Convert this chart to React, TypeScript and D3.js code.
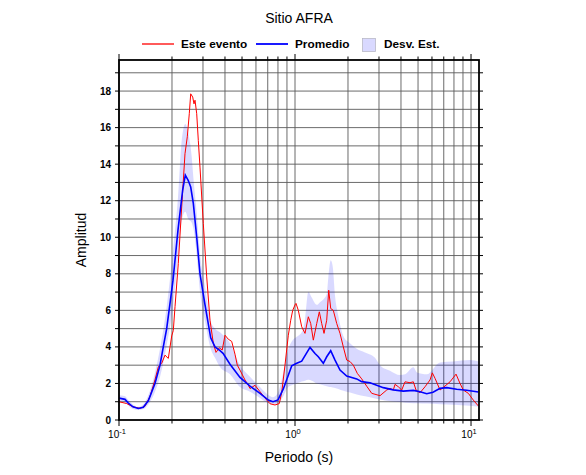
import React from "react";
import * as d3 from "d3";

const title = "Sitio AFRA";
const xLabel = "Periodo (s)";
const yLabel = "Amplitud";
const legendLabels = ["Este evento", "Promedio", "Desv. Est."];
const yTickValues = [0, 2, 4, 6, 8, 10, 12, 14, 16, 18];
const xMajorTicks = [0.1, 1, 10];
const xMajorExps = ["-1", "0", "1"];

const eventPeriods = [0.1, 0.1106, 0.12, 0.1316, 0.1405, 0.1501, 0.1601, 0.1672, 0.1748, 0.1825, 0.1906, 0.1993, 0.2035, 0.2081, 0.2172, 0.2271, 0.2371, 0.2444, 0.2508, 0.2555, 0.2623, 0.2668, 0.2703, 0.2764, 0.2822, 0.2885, 0.3013, 0.315, 0.3289, 0.3434, 0.3557, 0.3715, 0.386, 0.4002, 0.4178, 0.4368, 0.456, 0.47, 0.4869, 0.5198, 0.5428, 0.555, 0.5926, 0.6326, 0.6906, 0.7211, 0.7697, 0.8142, 0.8401, 0.8772, 0.9162, 0.9454, 0.9703, 1.0, 1.0131, 1.0442, 1.0916, 1.1398, 1.1901, 1.2281, 1.2706, 1.3284, 1.3744, 1.4181, 1.4615, 1.514, 1.5542, 1.5952, 1.6506, 1.7257, 1.8017, 1.8812, 1.967, 2.0535, 2.1443, 2.2594, 2.393, 2.5546, 2.7273, 3.041, 3.3195, 3.4653, 3.6182, 3.7, 3.863, 4.0394, 4.217, 4.502, 4.7011, 4.8697, 5.131, 5.478, 5.8482, 6.0275, 6.2452, 6.667, 7.1176, 7.5985, 8.2198, 8.6596, 9.0397, 9.65, 10.306, 11.0];
const eventValues = [1.0, 0.9, 0.72, 0.64, 0.75, 1.3, 2.2, 2.9, 3.1, 3.55, 3.37, 4.6, 4.9, 6.2, 8.56, 11.66, 14.57, 15.5, 16.76, 17.85, 17.67, 17.3, 17.5, 16.76, 15.3, 13.84, 10.75, 7.83, 5.46, 4.2, 3.7, 3.95, 3.83, 4.64, 4.42, 4.3, 3.6, 3.0, 2.73, 2.19, 1.91, 1.72, 1.9, 1.55, 1.09, 0.89, 0.82, 0.9, 1.5, 3.0, 4.64, 5.46, 6.0, 6.3, 6.38, 6.0, 5.1, 4.74, 5.65, 5.28, 4.37, 5.28, 5.92, 5.28, 4.74, 5.46, 7.1, 6.1, 6.0, 5.28, 4.74, 4.0, 3.28, 3.2, 3.0, 2.55, 2.25, 1.85, 1.46, 1.33, 1.64, 1.73, 1.64, 1.95, 1.82, 1.64, 2.09, 2.04, 2.09, 1.64, 1.49, 1.82, 2.19, 2.58, 2.28, 1.64, 1.86, 2.09, 2.51, 2.0, 1.64, 1.46, 1.09, 0.77];

const meanPeriods = [0.1, 0.1082, 0.1129, 0.1201, 0.1287, 0.1374, 0.1467, 0.1601, 0.171, 0.1785, 0.1866, 0.196, 0.2027, 0.2164, 0.2301, 0.2381, 0.2476, 0.2555, 0.2644, 0.2764, 0.2885, 0.3081, 0.3319, 0.3511, 0.3749, 0.39, 0.4272, 0.4869, 0.555, 0.6326, 0.7052, 0.75, 0.8005, 0.8579, 0.9162, 0.958, 1.0226, 1.0916, 1.2168, 1.2991, 1.3565, 1.4481, 1.514, 1.5952, 1.6878, 1.8017, 1.967, 2.2418, 2.393, 2.6671, 2.9121, 3.175, 3.6182, 4.1241, 4.7011, 5.131, 5.6017, 6.0833, 6.667, 7.2771, 8.2958, 9.45, 11.0];
const meanValues = [1.2, 1.13, 0.93, 0.72, 0.63, 0.7, 1.05, 2.0, 3.0, 4.0, 5.0, 6.56, 7.65, 10.4, 12.6, 13.4, 13.1, 12.75, 11.85, 10.0, 8.0, 6.3, 4.5, 4.0, 3.8, 3.65, 3.05, 2.33, 1.85, 1.46, 1.09, 1.0, 1.1, 1.7, 2.45, 2.97, 3.1, 3.22, 3.97, 3.64, 3.46, 3.1, 3.46, 3.79, 3.28, 2.73, 2.4, 2.25, 2.1, 2.04, 1.9, 1.77, 1.65, 1.58, 1.62, 1.55, 1.44, 1.52, 1.73, 1.77, 1.68, 1.63, 1.53];

const bandPeriods = [0.1, 0.1082, 0.1129, 0.1201, 0.1287, 0.1374, 0.1467, 0.1601, 0.171, 0.1866, 0.2027, 0.2164, 0.2271, 0.2381, 0.2476, 0.2589, 0.2644, 0.2764, 0.2885, 0.3081, 0.3319, 0.3511, 0.3749, 0.4272, 0.4869, 0.555, 0.6326, 0.7052, 0.75, 0.8005, 0.8579, 0.9162, 0.9579, 1.0226, 1.0916, 1.1398, 1.1901, 1.2443, 1.3284, 1.3868, 1.4481, 1.514, 1.5461, 1.5952, 1.6376, 1.6878, 1.762, 1.8812, 2.0535, 2.2418, 2.4984, 2.8478, 3.0409, 3.4653, 3.9501, 4.217, 4.7011, 4.93, 5.6017, 6.667, 7.934, 9.87, 11.1];
const bandUpper = [1.35, 1.3, 1.1, 0.85, 0.72, 0.85, 1.35, 2.6, 3.9, 6.2, 9.3, 12.2, 15.3, 16.2, 15.7, 14.4, 13.3, 11.3, 9.1, 7.3, 5.4, 5.0, 4.8, 4.2, 3.0, 2.37, 1.8, 1.37, 1.25, 1.5, 2.6, 3.9, 4.3, 4.55, 4.8, 5.5, 7.0, 6.7, 6.3, 6.45, 6.6, 6.9, 7.8, 8.74, 8.4, 6.8, 5.7, 4.6, 4.2, 3.9, 3.7, 3.4, 3.0, 2.7, 2.46, 2.5, 2.88, 2.6, 2.5, 3.15, 3.2, 3.28, 3.2];
const bandLower = [1.05, 0.98, 0.8, 0.6, 0.55, 0.6, 0.85, 1.55, 2.35, 4.1, 6.2, 8.9, 10.9, 11.4, 11.0, 10.8, 10.5, 9.0, 7.0, 5.4, 3.9, 3.4, 2.9, 2.5, 1.8, 1.55, 1.2, 0.91, 0.85, 0.9, 1.3, 1.8, 1.9, 2.0, 2.1, 2.15, 2.2, 2.15, 2.0, 1.95, 1.9, 1.85, 1.82, 1.8, 1.78, 1.75, 1.7, 1.6, 1.5, 1.4, 1.3, 1.18, 1.12, 1.02, 0.98, 0.95, 0.92, 0.92, 0.9, 0.86, 0.83, 0.78, 0.73];

const W = 586;
const H = 475;
const left = 119;
const right = 479;
const top = 60;
const bottom = 420;
const font = "'Liberation Sans', Arial, Helvetica, sans-serif";

export default function App() {
  const x = d3.scaleLog().domain([0.1, 11.1]).range([left, right]);
  const y = d3.scaleLinear().domain([0, 19.7]).range([bottom, top]);

  const minorX: number[] = [];
  for (const dec of [0.1, 1, 10]) {
    for (let k = 1; k <= 9; k++) {
      const v = dec * k;
      if (v >= 0.1 && v <= 11.1) minorX.push(v);
    }
  }
  const gridY = d3.range(1, 20);
  const tickY = d3.range(0, 20);

  const eventData = eventPeriods.map((p, i) => [p, eventValues[i]] as [number, number]);
  const meanData = meanPeriods.map((p, i) => [p, meanValues[i]] as [number, number]);
  const bandData = bandPeriods.map((p, i) => [p, bandLower[i], bandUpper[i]] as [number, number, number]);

  const line = d3
    .line<[number, number]>()
    .x((d) => x(d[0]))
    .y((d) => y(d[1]));
  const area = d3
    .area<[number, number, number]>()
    .x((d) => x(d[0]))
    .y0((d) => y(d[1]))
    .y1((d) => y(d[2]))
    .curve(d3.curveMonotoneX);

  return (
    <svg width={W} height={H} style={{ display: "block", position: "absolute", left: 0, top: 0 }}>
      <rect x={0} y={0} width={W} height={H} fill="#fff" />
      <defs>
        <clipPath id="plotclip">
          <rect x={left} y={top} width={right - left} height={bottom - top} />
        </clipPath>
      </defs>
      <text x={299} y={23} textAnchor="middle" fontFamily={font} fontSize={14} fill="#000">
        {title}
      </text>
      {/* legend */}
      <line x1={142} x2={174} y1={44} y2={44} stroke="#ff0000" strokeWidth={1.3} />
      <text x={181} y={48} fontFamily={font} fontSize={11.8} fontWeight="bold">
        {legendLabels[0]}
      </text>
      <line x1={256} x2={288} y1={44} y2={44} stroke="#0000ff" strokeWidth={1.8} />
      <text x={295} y={48} fontFamily={font} fontSize={11.8} fontWeight="bold">
        {legendLabels[1]}
      </text>
      <rect x={362.5} y={38.5} width={13} height={13} fill="#d9d9ff" stroke="#b8b8c8" strokeWidth={0.8} />
      <text x={384} y={48} fontFamily={font} fontSize={11.8} fontWeight="bold">
        {legendLabels[2]}
      </text>

      {/* grid */}
      <g stroke="#5a5a5a" strokeWidth={0.9}>
        {gridY.map((v) => (
          <line key={"gy" + v} x1={left} x2={right} y1={y(v)} y2={y(v)} />
        ))}
        {minorX.map((v) => (
          <line key={"gx" + v} x1={x(v)} x2={x(v)} y1={top} y2={bottom} />
        ))}
      </g>

      <g clipPath="url(#plotclip)">
        <path d={area(bandData) || ""} fill="#0000ff" fillOpacity={0.15} stroke="none" />
        <path d={line(eventData) || ""} fill="none" stroke="#ff0000" strokeWidth={1} />
        <path d={line(meanData) || ""} fill="none" stroke="#0000ff" strokeWidth={1.6} />
      </g>

      {/* ticks */}
      <g stroke="#000" strokeWidth={1}>
        {tickY.map((v) => (
          <g key={"ty" + v}>
            <line x1={left - 4} x2={left} y1={y(v)} y2={y(v)} />
            <line x1={right} x2={right + 4} y1={y(v)} y2={y(v)} />
          </g>
        ))}
        {minorX.map((v) => {
          const major = xMajorTicks.includes(v);
          const len = major ? 6 : 3.5;
          return (
            <g key={"tx" + v}>
              <line x1={x(v)} x2={x(v)} y1={bottom} y2={bottom + len} />
              <line x1={x(v)} x2={x(v)} y1={top - len} y2={top} />
            </g>
          );
        })}
      </g>

      {/* frame */}
      <rect x={left} y={top} width={right - left} height={bottom - top} fill="none" stroke="#000" strokeWidth={1.8} />

      {/* y tick labels */}
      {yTickValues.map((v) => (
        <text key={"yl" + v} x={left - 8} y={y(v) + 3.5} textAnchor="end" fontFamily={font} fontSize={10} fontWeight="bold">
          {v}
        </text>
      ))}
      {/* x tick labels */}
      {xMajorTicks.map((v, i) => (
        <text key={"xl" + v} x={x(v) - 2} y={438} textAnchor="middle" fontFamily={font} fontSize={10}>
          <tspan>10</tspan>
          <tspan dy={-4} fontSize={7.5}>
            {xMajorExps[i]}
          </tspan>
        </text>
      ))}

      <text x={299} y={462} textAnchor="middle" fontFamily={font} fontSize={14}>
        {xLabel}
      </text>
      <text
        transform={`translate(86, 240) rotate(-90)`}
        textAnchor="middle"
        fontFamily={font}
        fontSize={14}
      >
        {yLabel}
      </text>
    </svg>
  );
}
